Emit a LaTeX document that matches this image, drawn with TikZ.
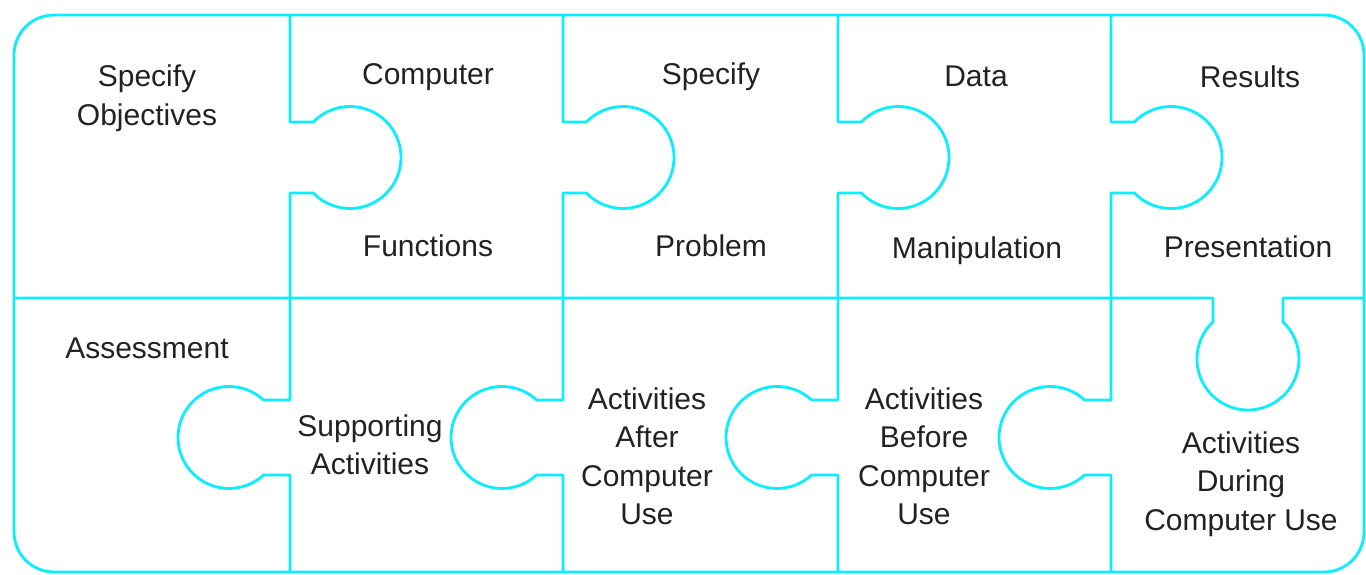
\documentclass[tikz,border=0pt]{standalone}
\usepackage{fontspec}
\setmainfont{Liberation Sans}
\begin{document}
\begin{tikzpicture}[x=1pt,y=-1pt,
  edge/.style={draw={rgb,255:red,10;green,238;blue,255},line width=2.8pt,line join=round},
  lbl/.style={anchor=base,align=center,text={rgb,255:red,34;green,34;blue,34},
    font=\fontsize{30}{38.5}\selectfont,inner sep=0pt}]
\useasboundingbox (0,0) rectangle (1366,575);
% outer frame
\draw[edge,rounded corners=40] (14,15) rectangle (1364,572);
% middle seam with the tab hanging down into the last lower piece
\draw[edge] (14,298) -- (1213,298) -- (1213,321.9)
  arc[start angle=226.7, end angle=-46.7, radius=51] -- (1283,298) -- (1364,298);
% upper seams: knobs point right
\foreach \X in {290,563,838,1111}
  \draw[edge] (\X,15) -- (\X,122) -- (\X+23.4,122)
    arc[start angle=-135.9, end angle=135.9, radius=51] -- (\X,193) -- (\X,298);
% lower seams: knobs point left
\foreach \X in {290,563,838,1111}
  \draw[edge] (\X,298) -- (\X,400) -- (\X-26.4,400)
    arc[start angle=-47.3, end angle=-312.7, radius=51] -- (\X,475) -- (\X,572);
% labels, upper row (base anchor sits on the last line)
\node[lbl] (obj)  at (147,125.5) {Specify\\Objectives};
\node[lbl] (cf1)  at (428,85)  {Computer};
\node[lbl] (cf2)  at (428,256) {Functions};
\node[lbl] (sp1)  at (711,85)  {Specify};
\node[lbl] (sp2)  at (711,256) {Problem};
\node[lbl] (dm1)  at (976,87)  {Data};
\node[lbl] (dm2)  at (977,258) {Manipulation};
\node[lbl] (rp1)  at (1250,88) {Results};
\node[lbl] (rp2)  at (1248,257) {Presentation};
% labels, lower row
\node[lbl] (ass)  at (147,358) {Assessment};
\node[lbl] (sup)  at (370,474.5) {Supporting\\Activities};
\node[lbl] (aft)  at (647,524.5) {Activities\\After\\Computer\\Use};
\node[lbl] (bef)  at (924,524.5) {Activities\\Before\\Computer\\Use};
\node[lbl] (dur)  at (1241,530) {Activities\\During\\Computer Use};
\end{tikzpicture}
\end{document}
